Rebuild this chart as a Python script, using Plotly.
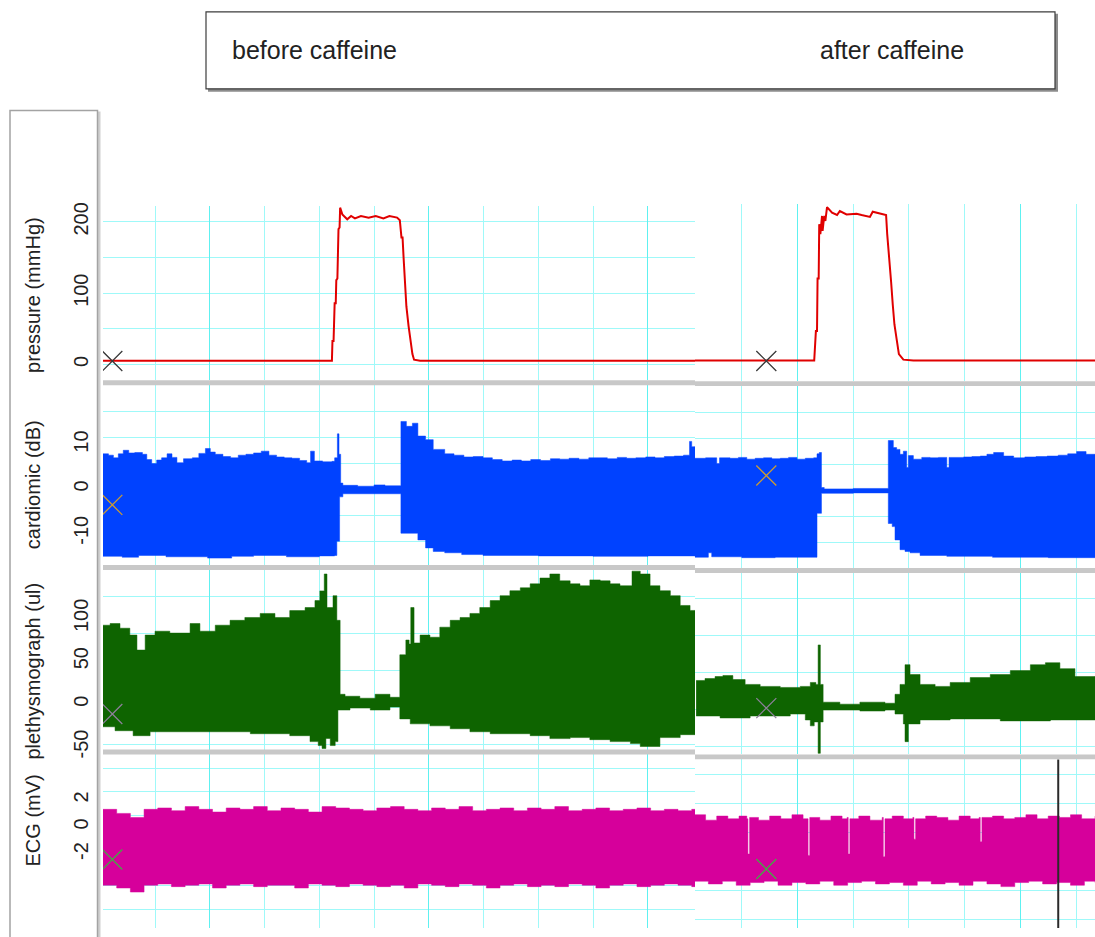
import plotly.graph_objects as go

W, H = 1095, 937

# ------------------------------------------------------------------ text
header_labels = ["before caffeine", "after caffeine"]
channel_titles = ["pressure (mmHg)", "cardiomic (dB)", "plethysmograph (ul)", "ECG (mV)"]
pressure_ticks = [0, 100, 200]
cardio_ticks = [-10, 0, 10]
pleth_ticks = [-50, 0, 50, 100]
ecg_ticks = [-2, 0, 2]

# ------------------------------------------------------------------ data (time in s, value in channel units)
pressure_before = [(0.5, 5.3), (42.3, 5.3), (42.4, 32.9), (42.6, 32.9), (42.8, 86), (43.0, 86), (43.1, 118.3),
                   (43.3, 120.6), (43.5, 189.8), (43.7, 192.2), (43.8, 220), (44.2, 210.6), (45.1, 203.7),
                   (45.8, 208.3), (46.5, 205), (47.6, 208.3), (49.0, 206), (50.3, 208.3), (51.7, 205),
                   (52.8, 208.3), (54.2, 206), (54.7, 202.3), (55.0, 178.3), (55.2, 178.3), (55.4, 148.3),
                   (55.6, 113.7), (55.9, 81.4), (56.3, 53.8), (56.6, 33), (57.0, 14.5), (57.3, 6.7),
                   (58.4, 5.3), (108.6, 5.3)]
pressure_after = [(1.6, 3.5), (23.0, 3.5), (23.3, 44.6), (23.5, 44.6), (23.6, 118.4), (23.8, 118.4),
                  (23.9, 194.4), (24.1, 180.6), (24.4, 206), (24.5, 185), (24.8, 206), (25.0, 199),
                  (25.3, 218.4), (26.2, 210.5), (27.1, 207.3), (27.6, 212.9), (28.8, 208.2), (30.6, 209.2),
                  (31.5, 207.3), (33.0, 204.6), (33.5, 211.9), (35.9, 207.3), (36.1, 180.6), (36.5, 148.3),
                  (36.8, 113.8), (37.1, 81.5), (37.4, 53.9), (37.8, 33.1), (38.2, 12.4), (39.0, 4.6),
                  (40.8, 3.5), (73.4, 3.5)]

cardio_before_top = [(0.5, 7.9), (1.5, 7.6), (2.4, 7.0), (3.3, 7.9), (4.2, 8.7), (5.2, 8.1), (6.3, 8.2),
                     (7.7, 7.8), (8.5, 6.6), (9.4, 5.7), (10.3, 6.5), (11.2, 7.0), (12.2, 7.9), (13.1, 7.1),
                     (14.0, 5.9), (15.2, 6.8), (16.8, 7.0), (18.0, 8.0), (19.2, 9.1), (20.1, 8.3), (21.0, 7.8),
                     (22.4, 7.3), (23.8, 7.0), (25.2, 7.6), (26.6, 7.8), (28.0, 8.1), (29.4, 8.5), (30.8, 7.6),
                     (32.2, 7.2), (33.6, 7.0), (35.0, 6.9), (36.4, 6.4), (37.7, 5.9), (38.4, 8.5), (39.1, 6.3),
                     (40.6, 6.1), (42.3, 6.2), (42.8, 7.0), (43.3, 12.4), (43.6, 7.8), (43.9, 1.3), (44.3, 0.8),
                     (47.0, 0.6), (50.0, 0.9), (52.0, 0.7), (54.9, 15.2), (55.9, 14.1), (57.0, 14.8),
                     (58.0, 11.9), (59.4, 11.1), (60.8, 8.9), (62.9, 7.9), (64.6, 7.6), (66.4, 7.2), (68.1, 7.3),
                     (69.9, 7.0), (71.6, 6.6), (73.4, 6.3), (75.2, 6.5), (76.9, 6.3), (78.6, 6.6), (80.4, 6.4),
                     (82.2, 6.8), (83.9, 6.7), (85.6, 6.9), (87.4, 6.7), (89.2, 7.0), (90.9, 7.0), (92.6, 6.8),
                     (94.4, 7.1), (96.1, 6.9), (97.8, 7.0), (99.6, 7.2), (101.3, 7.0), (103.0, 7.3),
                     (104.8, 7.4), (106.5, 7.6), (107.6, 10.7), (108.0, 9.5), (108.6, 6.7)]
cardio_before_bot = [(0.5, -15.2), (4.0, -15.4), (7.0, -15.0), (12.0, -15.3), (19.6, -15.6), (24.0, -15.2),
                     (28.0, -15.0), (34.0, -15.3), (40.0, -15.1), (42.8, -15.0), (43.2, -11.8), (43.7, -1.8),
                     (44.3, -1.1), (54.9, -10.0), (57.3, -10.0), (58.0, -11.5), (59.4, -13.3), (60.8, -14.1),
                     (62.9, -14.4), (66.0, -14.8), (69.9, -15.0), (80.0, -15.1), (90.0, -15.2), (100.0, -15.1),
                     (108.6, -15.2)]
cardio_after_top = [(1.6, 6.9), (3.5, 7.0), (4.9, 7.0), (5.5, 5.7), (6.0, 7.0), (7.9, 6.9), (9.4, 7.1),
                    (10.9, 6.7), (12.4, 6.9), (13.9, 7.0), (15.4, 6.8), (16.9, 6.9), (18.4, 7.1), (19.9, 6.7),
                    (21.4, 6.9), (22.9, 7.0), (23.5, 7.9), (23.9, 8.2), (24.3, 0.3), (24.8, 0.0), (30.0, 0.1),
                    (36.3, 10.9), (37.2, 9.3), (37.8, 8.9), (38.4, 7.8), (39.0, 8.5), (39.6, 4.8), (39.9, 7.5),
                    (40.8, 6.7), (42.3, 7.1), (43.8, 7.0), (45.3, 7.1), (46.8, 4.8), (47.2, 7.1), (49.8, 7.2),
                    (51.3, 7.3), (52.8, 7.4), (54.0, 7.8), (55.2, 8.2), (57.0, 7.4), (58.8, 7.0), (60.8, 7.2),
                    (62.8, 7.3), (64.8, 7.4), (66.8, 7.6), (68.5, 7.9), (70.1, 8.4), (71.8, 7.8), (73.4, 7.4)]
cardio_after_bot = [(1.6, -15.4), (4.0, -14.4), (4.6, -15.3), (10.0, -15.5), (16.0, -15.4), (23.5, -5.5),
                    (24.3, -1.0), (30.0, -0.9), (36.3, -7.8), (37.0, -8.5), (37.5, -11.5), (38.4, -13.7),
                    (39.3, -14.1), (40.2, -14.4), (42.0, -15.0), (46.8, -15.2), (55.0, -15.4), (65.0, -15.5),
                    (73.4, -15.5)]

pleth_before_top = [(0.5, 92), (1.8, 94), (3.6, 88.5), (5.4, 80.5), (6.7, 63), (8.2, 80.5), (10.0, 85),
                    (12.7, 82.8), (16.4, 94), (18.2, 85), (21.0, 92), (23.7, 97.7), (26.4, 101), (29.2, 105.7),
                    (31.9, 101), (34.6, 109), (37.4, 112.6), (39.2, 120.7), (40.1, 132), (40.9, 151.7),
                    (41.4, 112.6), (42.5, 126.4), (43.2, 97.7), (43.8, 11.5), (44.7, 9.2), (47.4, 6.9),
                    (50.2, 11.5), (52.9, 8.0), (54.7, 57.5), (55.8, 74.7), (56.4, 70), (56.7, 112.6),
                    (57.3, 71.3), (58.4, 80.5), (60.2, 78), (62.0, 89.7), (63.9, 97.7), (65.7, 101),
                    (67.5, 105.7), (69.3, 112.6), (71.2, 120.7), (73.0, 126.4), (74.8, 132.2), (76.7, 135.6),
                    (78.5, 140.2), (80.3, 147), (82.1, 151.7), (83.9, 143.7), (85.8, 140.2), (87.6, 138),
                    (89.4, 144.8), (91.3, 143.7), (93.1, 140.2), (94.9, 138), (97.1, 155), (98.6, 151.7),
                    (100.4, 138), (102.2, 132.2), (104.1, 126.4), (105.9, 115), (107.7, 109.2), (108.6, 105.7)]
pleth_before_bot = [(0.5, -26.4), (2.7, -31), (6.0, -36.8), (9.1, -32.2), (18.2, -32.2), (27.4, -34.5),
                    (34.6, -36.8), (38.3, -43.7), (39.8, -48.3), (40.5, -51.7), (41.2, -40), (42.0, -48.3),
                    (42.9, -43.7), (43.4, -6.9), (45.6, -4.6), (49.3, -6.9), (52.9, -3.4), (54.7, -17.2),
                    (56.6, -23), (60.2, -25.3), (63.9, -28.7), (67.5, -32.2), (71.2, -34.5), (74.8, -34.5),
                    (78.5, -36.8), (82.1, -40.2), (85.8, -39), (89.4, -41.4), (93.1, -43.7), (96.8, -46),
                    (98.6, -49.4), (102.2, -39), (105.9, -35.6), (108.6, -34.5)]
pleth_after_top = [(1.8, 29.9), (3.4, 32.2), (5.2, 34.5), (6.6, 35.6), (8.4, 31), (10.6, 25.3), (13.3, 23),
                   (16.9, 21.8), (20.5, 23), (22.3, 27.6), (23.3, 25.3), (23.7, 71.3), (24.1, 25.3),
                   (24.6, 4.6), (27.6, 2.3), (31.2, 4.6), (35.7, 3.4), (37.5, 13.8), (38.4, 25.3), (39.3, 48.3),
                   (40.2, 36.8), (42.0, 25.3), (44.7, 23), (47.4, 27.6), (51.0, 33.3), (54.6, 36.8),
                   (58.2, 41.4), (61.8, 48.3), (64.5, 50.6), (67.1, 43.7), (69.8, 34.5), (73.4, 25.3)]
pleth_after_bot = [(1.8, -11.5), (6.1, -13.8), (11.5, -11.5), (18.7, -9.2), (21.4, -16.1), (22.3, -23),
                   (23.0, -18.4), (23.7, -55), (24.1, -18.4), (24.6, -4.6), (27.6, -4.6), (31.2, -5.7),
                   (35.7, -4.6), (37.5, -9.2), (39.0, -20.7), (39.3, -41.4), (39.9, -20.7), (42.0, -16.1),
                   (47.4, -14.9), (56.4, -17.2), (65.4, -16.1), (73.4, -12.6)]

ecg_before_top = [(0.5, 1.3), (3.0, 1.0), (5.5, 0.7), (8.0, 1.3), (10.5, 1.4), (13.0, 1.2), (15.5, 1.5),
                  (18.0, 1.3), (20.5, 1.1), (23.0, 1.4), (25.5, 1.3), (28.0, 1.5), (30.5, 1.2), (33.0, 1.4),
                  (35.5, 1.3), (38.0, 1.1), (40.5, 1.5), (43.0, 1.4), (45.5, 1.3), (48.0, 1.2), (50.5, 1.4),
                  (53.0, 1.5), (55.5, 1.3), (58.0, 1.2), (60.5, 1.4), (63.0, 1.3), (65.5, 1.5), (68.0, 1.2),
                  (70.5, 1.3), (73.0, 1.4), (75.5, 1.2), (78.0, 1.4), (80.5, 1.3), (83.0, 1.5), (85.5, 1.2),
                  (88.0, 1.3), (90.5, 1.4), (93.0, 1.2), (95.5, 1.3), (98.0, 1.4), (100.5, 1.2), (103.0, 1.3),
                  (105.5, 1.2), (108.0, 1.3), (108.6, 1.3)]
ecg_before_bot = [(0.5, -4.3), (3.0, -4.5), (5.5, -4.8), (8.0, -4.3), (10.5, -4.2), (13.0, -4.4), (15.5, -4.3),
                  (18.0, -4.2), (20.5, -4.5), (23.0, -4.3), (25.5, -4.2), (28.0, -4.4), (30.5, -4.3),
                  (33.0, -4.3), (35.5, -4.5), (38.0, -4.2), (40.5, -4.3), (43.0, -4.4), (45.5, -4.2),
                  (48.0, -4.3), (50.5, -4.4), (53.0, -4.3), (55.5, -4.5), (58.0, -4.2), (60.5, -4.3),
                  (63.0, -4.4), (65.5, -4.2), (68.0, -4.3), (70.5, -4.5), (73.0, -4.3), (75.5, -4.2),
                  (78.0, -4.4), (80.5, -4.3), (83.0, -4.4), (85.5, -4.2), (88.0, -4.3), (90.5, -4.5),
                  (93.0, -4.3), (95.5, -4.2), (98.0, -4.4), (100.5, -4.3), (103.0, -4.2), (105.5, -4.3),
                  (108.0, -4.4), (108.6, -4.3)]
ecg_after_top = [(1.6, 0.9), (3.5, 0.5), (5.5, 0.8), (7.5, 0.6), (9.5, 0.8), (10.9, 0.6), (11.1, -2.0),
                 (11.4, 0.7), (13.0, 0.5), (15.0, 0.8), (17.0, 0.6), (19.0, 0.9), (21.0, 0.6), (21.7, 0.6),
                 (21.9, -2.1), (22.2, 0.7), (24.0, 0.5), (26.0, 0.8), (28.0, 0.6), (28.9, 0.7), (29.1, -2.0),
                 (29.4, 0.6), (31.0, 0.8), (33.0, 0.5), (35.2, 0.7), (35.4, -2.2), (35.7, 0.6), (37.0, 0.8),
                 (39.0, 0.6), (40.7, 0.7), (40.9, -0.9), (41.2, 0.6), (43.0, 0.8), (45.0, 0.7), (47.0, 0.5),
                 (49.0, 0.8), (51.0, 0.6), (52.6, 0.7), (52.8, -1.1), (53.1, 0.7), (55.0, 0.8), (57.0, 0.6),
                 (59.0, 0.7), (61.0, 0.9), (63.0, 0.6), (65.0, 0.8), (67.0, 0.7), (69.0, 0.9), (71.0, 0.6),
                 (73.4, 0.8)]
ecg_after_bot = [(1.6, -4.0), (4.0, -4.2), (6.5, -4.0), (9.0, -4.3), (11.5, -4.1), (14.0, -4.0), (16.5, -4.3),
                 (19.0, -4.1), (21.5, -4.2), (24.0, -4.0), (26.5, -4.3), (29.0, -4.1), (31.5, -4.0),
                 (34.0, -4.2), (36.5, -4.1), (39.0, -4.3), (41.5, -4.0), (44.0, -4.2), (46.5, -4.1),
                 (49.0, -4.3), (51.5, -4.0), (54.0, -4.2), (56.5, -4.4), (59.0, -4.1), (61.5, -4.0),
                 (64.0, -4.2), (66.5, -4.1), (69.0, -4.3), (71.5, -4.0), (73.4, -4.1)]
ecg_after_cursor_t = 66.8

# channel marker (X) positions: (time, value) for before / after
marker_before = [(2.2, 4.8), (2.2, -3.6), (2.2, -11.5), (2.2, -2.4)]
marker_after = [(14.4, 2.8), (14.4, 3.0), (14.4, -2.3), (14.4, -3.1)]

# ------------------------------------------------------------------ styles / layout geometry (pixels)
FONT = "Liberation Sans, Arial, sans-serif"
COL = {"pressure": "#e00000", "cardio": "#0042ff", "pleth": "#0e6400", "ecg": "#d6009b"}
MARK_COL = ["#3a3a3a", "#c99a35", "#8c7f99", "#45a845"]
GRID_MINOR = "#9ff9f9"
GRID_MAJOR = "#5ef1f1"

X_LEFT = (103, 695)
X_RIGHT = (695, 1095)
T_LEFT = (0.5, 108.6)
T_RIGHT = (1.6, 73.4)

# per panel: pixel domain (top, bottom), value range, minor grid (tick0, dtick)
panels = [
    dict(col=0, py=(205, 381.5), rng=(-22.1, 222.1), grid=(0, 50), ticks=pressure_ticks),
    dict(col=0, py=(386.5, 569), rng=(-17.18, 23.38), grid=(-0.22, 5.856), ticks=cardio_ticks),
    dict(col=0, py=(574, 756), rng=(-52.9, 156.3), grid=(-3.7, 43.1), ticks=pleth_ticks),
    dict(col=0, py=(760, 937), rng=(-7.45, 5.42), grid=(0.858, 1.735), ticks=ecg_ticks),
    dict(col=1, py=(203, 382.5), rng=(-25.6, 222.5), grid=(0, 50), ticks=None),
    dict(col=1, py=(387, 572), rng=(-17.84, 23.27), grid=(-0.356, 5.867), ticks=None),
    dict(col=1, py=(576, 761), rng=(-56.3, 156.3), grid=(-3.45, 43.1), ticks=None),
    dict(col=1, py=(766, 937), rng=(-7.45, 4.98), grid=(-0.436, 2.138), ticks=None),
]


def fx(px):
    return px / W


def fy(py):
    return 1 - py / H


fig = go.Figure()
layout = dict(width=W, height=H, margin=dict(l=0, r=0, t=0, b=0), paper_bgcolor="white",
              plot_bgcolor="white", showlegend=False, font=dict(family=FONT, size=20, color="#222"))

for i, p in enumerate(panels):
    n = "" if i == 0 else str(i + 1)
    xr = X_LEFT if p["col"] == 0 else X_RIGHT
    tr = T_LEFT if p["col"] == 0 else T_RIGHT
    layout["xaxis" + n] = dict(domain=[fx(xr[0]), fx(xr[1])], range=list(tr), anchor="y" + n,
                               showticklabels=False, ticks="", zeroline=False, showline=False,
                               tick0=20, dtick=40, showgrid=True, gridcolor=GRID_MAJOR, gridwidth=1.3,
                               minor=dict(tick0=0, dtick=10, showgrid=True, gridcolor=GRID_MINOR, gridwidth=1),
                               fixedrange=True)
    ya = dict(domain=[fy(p["py"][1]), fy(p["py"][0])], range=list(p["rng"]), anchor="x" + n,
              zeroline=False, showline=False, showgrid=False, ticks="", fixedrange=True,
              minor=dict(tick0=p["grid"][0], dtick=p["grid"][1], showgrid=True, gridcolor=GRID_MINOR,
                         gridwidth=1))
    if p["ticks"]:
        ya.update(tickmode="array", tickvals=p["ticks"], ticktext=[str(v) for v in p["ticks"]],
                  tickangle=-90, tickfont=dict(size=20, color="#222", family=FONT),
                  ticklabelstandoff=10)
    else:
        ya.update(showticklabels=False)
    layout["yaxis" + n] = ya


def axes(i):
    n = "" if i == 0 else str(i + 1)
    return dict(xaxis="x" + n, yaxis="y" + n)


def band(top, bot, color, i):
    # lower envelope first, then the upper envelope filled down to it
    fig.add_trace(go.Scatter(x=[t for t, _ in bot], y=[v for _, v in bot], mode="lines",
                             line=dict(color=color, width=0.5, shape="hv"), hoverinfo="skip", **axes(i)))
    fig.add_trace(go.Scatter(x=[t for t, _ in top], y=[v for _, v in top], mode="lines", fill="tonexty",
                             fillcolor=color, line=dict(color=color, width=0.5, shape="hv"),
                             hoverinfo="skip", **axes(i)))


def line(pts, color, i):
    fig.add_trace(go.Scatter(x=[t for t, _ in pts], y=[v for _, v in pts], mode="lines",
                             line=dict(color=color, width=2), hoverinfo="skip", **axes(i)))


line(pressure_before, COL["pressure"], 0)
band(cardio_before_top, cardio_before_bot, COL["cardio"], 1)
band(pleth_before_top, pleth_before_bot, COL["pleth"], 2)
band(ecg_before_top, ecg_before_bot, COL["ecg"], 3)
line(pressure_after, COL["pressure"], 4)
band(cardio_after_top, cardio_after_bot, COL["cardio"], 5)
band(pleth_after_top, pleth_after_bot, COL["pleth"], 6)
band(ecg_after_top, ecg_after_bot, COL["ecg"], 7)

# cursor line in the ECG (after) panel
fig.add_trace(go.Scatter(x=[ecg_after_cursor_t, ecg_after_cursor_t], y=list(panels[7]["rng"]), mode="lines",
                         line=dict(color="#2a2a2a", width=2), hoverinfo="skip", **axes(7)))

for k in range(4):
    for col, mk in ((0, marker_before), (1, marker_after)):
        i = k + 4 * col
        fig.add_trace(go.Scatter(x=[mk[k][0]], y=[mk[k][1]], mode="markers",
                                 marker=dict(symbol="x-thin", size=20,
                                             line=dict(color=MARK_COL[k], width=1.3)),
                                 hoverinfo="skip", **axes(i)))

# ------------------------------------------------------------------ frames, separators, texts
shapes = []


def rect(x0, y0, x1, y1, **kw):
    shapes.append(dict(type="rect", xref="paper", yref="paper", x0=fx(x0), x1=fx(x1), y0=fy(y1), y1=fy(y0), **kw))


rect(208, 10, 1058, 89, fillcolor="#8c8c8c", line=dict(width=0), layer="below")
rect(206, 8, 1055, 86, fillcolor="white", line=dict(color="#3c3c3c", width=1.2), layer="below")
rect(98, 109, 100.5, 950, fillcolor="#cfcfcf", line=dict(width=0), layer="above")
rect(10, 108, 97.5, 950, fillcolor="rgba(0,0,0,0)", line=dict(color="#a3a3a3", width=1.5), layer="above")

for (x0, x1), ys in ((X_LEFT, [381.5, 569, 756]), (X_RIGHT, [382.5, 572, 761])):
    for y in ys:
        rect(x0, y, x1, y + 5, fillcolor="#c8c8c8", line=dict(width=0), layer="above")

annotations = [
    dict(text=header_labels[0], x=fx(230), y=fy(47), xref="paper", yref="paper", xanchor="left",
         yanchor="middle", showarrow=False, font=dict(size=25, color="#222", family=FONT)),
    dict(text=header_labels[1], x=fx(818), y=fy(47), xref="paper", yref="paper", xanchor="left",
         yanchor="middle", showarrow=False, font=dict(size=25, color="#222", family=FONT)),
]
title_y = [295, 488, 677, 828]
for t, yy in zip(channel_titles, title_y):
    annotations.append(dict(text=t, x=fx(33), y=fy(yy), xref="paper", yref="paper", xanchor="center",
                            yanchor="middle", textangle=-90, showarrow=False,
                            font=dict(size=20, color="#222", family=FONT)))

layout["shapes"] = shapes
layout["annotations"] = annotations
fig.update_layout(**layout)

fig.write_html("out.html", config={"displayModeBar": False},
               post_script="document.body.style.margin='0';")
